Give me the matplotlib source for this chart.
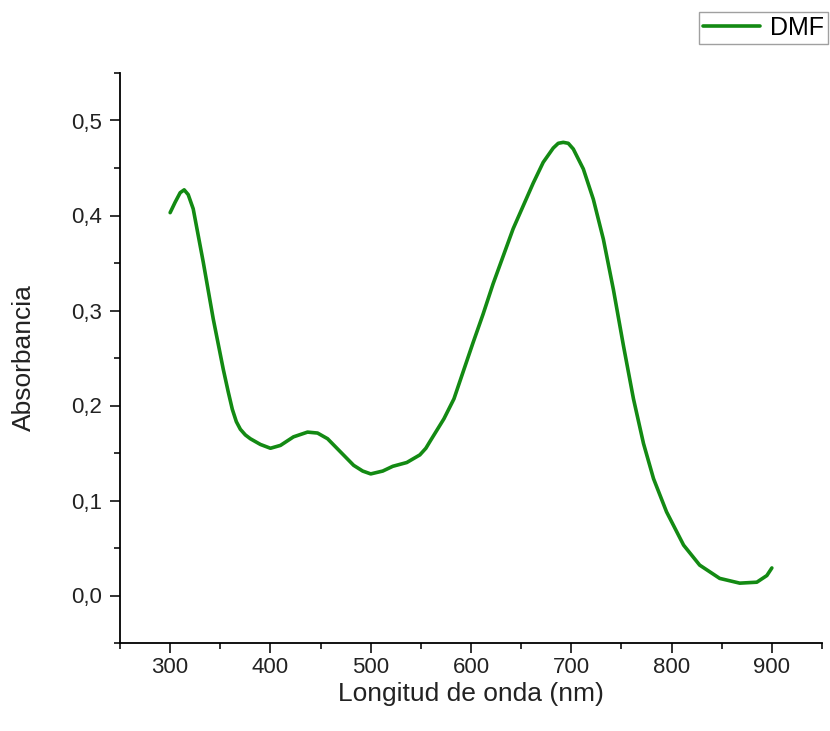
import matplotlib
matplotlib.use("Agg")
import matplotlib.pyplot as plt
from matplotlib.ticker import MultipleLocator, FuncFormatter

wavelength = [300, 305, 310, 314, 318, 323, 333, 343, 353, 358, 362, 366, 370, 375, 380,
              390, 400, 410, 423, 437, 447, 457, 470, 483, 492, 500, 512, 522, 536, 549,
              555, 559, 566, 573, 583, 592, 602, 612, 622, 632, 642, 652, 662, 672, 682,
              687, 692, 697, 702, 712, 722, 732, 742, 752, 762, 772, 782, 795, 812, 828,
              848, 868, 885, 895, 900]
absorbance = [0.403, 0.414, 0.424, 0.427, 0.422, 0.407, 0.351, 0.291, 0.238, 0.214, 0.196,
              0.183, 0.175, 0.169, 0.165, 0.159, 0.155, 0.158, 0.167, 0.172, 0.171, 0.165,
              0.151, 0.137, 0.131, 0.128, 0.131, 0.136, 0.140, 0.148, 0.155, 0.162, 0.174,
              0.186, 0.207, 0.235, 0.266, 0.296, 0.328, 0.357, 0.386, 0.410, 0.434, 0.456,
              0.471, 0.476, 0.477, 0.476, 0.470, 0.449, 0.417, 0.375, 0.322, 0.263, 0.207,
              0.160, 0.123, 0.088, 0.053, 0.032, 0.018, 0.013, 0.014, 0.021, 0.029]
series_label = "DMF"

plt.rcParams['font.family'] = ['Liberation Sans', 'DejaVu Sans']

fig = plt.figure(figsize=(8.30, 7.31), dpi=100)
ax = fig.add_axes([120/830, 88/731, (822-120)/830, (643-73)/731])

ax.plot(wavelength, absorbance, color='#138a13', lw=2.6, label=series_label,
        solid_joinstyle='round', solid_capstyle='round')

ax.set_xlim(250, 950)
ax.set_ylim(-0.05, 0.55)
ax.xaxis.set_major_locator(MultipleLocator(100))
ax.xaxis.set_minor_locator(MultipleLocator(50))
ax.yaxis.set_major_locator(MultipleLocator(0.1))
ax.yaxis.set_minor_locator(MultipleLocator(0.05))
ax.yaxis.set_major_formatter(FuncFormatter(lambda v, p: f"{v:.1f}".replace('.', ',')))

def xfmt(v, p):
    return f"{int(round(v))}" if 300 <= v <= 900 else ""
ax.xaxis.set_major_formatter(FuncFormatter(xfmt))

for s in ['top', 'right']:
    ax.spines[s].set_visible(False)
for s in ['left', 'bottom']:
    ax.spines[s].set_linewidth(1.3)

ax.tick_params(which='major', direction='out', length=7, width=1.3, labelsize=16,
               colors='#222222')
ax.tick_params(axis='x', which='major', pad=3)
ax.tick_params(axis='y', which='major', pad=6)
ax.tick_params(which='minor', direction='out', length=4, width=1.3, colors='#222222')

ax.set_xlabel("Longitud de onda (nm)", fontsize=19, labelpad=3, color='#222222')
ax.set_ylabel("Absorbancia", fontsize=19, labelpad=25, color='#222222')

fig.legend(loc='upper right', bbox_to_anchor=(828/830, 1 - 12/731), fontsize=18,
           frameon=True, fancybox=False, edgecolor='#888888', handlelength=2.3,
           borderpad=0.15, handletextpad=0.4, borderaxespad=0)

fig.savefig("out.png", dpi=100)
